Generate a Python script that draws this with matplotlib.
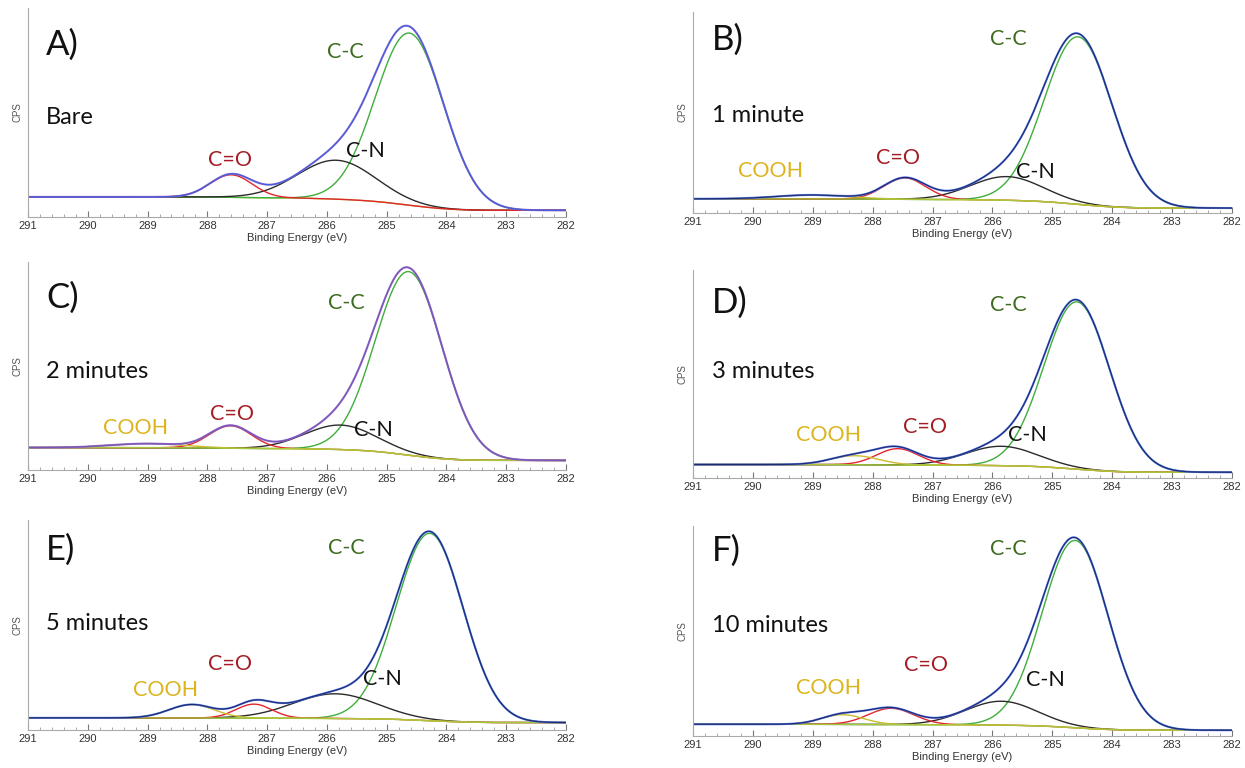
import numpy as np
import matplotlib
matplotlib.use("Agg")
import matplotlib.pyplot as plt
from matplotlib.ticker import MultipleLocator

# C 1s fit components per panel (height in % of axis height, centre / sigma in eV)
panel_tags = ["A)", "B)", "C)", "D)", "E)", "F)"]
times = ["Bare", "1 minute", "2 minutes", "3 minutes", "5 minutes", "10 minutes"]

cc_center = [284.62, 284.57, 284.63, 284.59, 284.28, 284.62]
cc_height = [84.0, 85.0, 90.0, 82.0, 91.0, 91.0]
cc_sigma = [0.57, 0.57, 0.56, 0.55, 0.56, 0.55]

cn_center = [285.84, 285.76, 285.77, 285.85, 285.86, 285.85]
cn_height = [19.0, 12.0, 12.0, 9.5, 12.0, 11.6]
cn_sigma = [0.65, 0.60, 0.60, 0.60, 0.70, 0.60]

co_center = [287.60, 287.46, 287.61, 287.58, 287.22, 287.69]
co_height = [11.0, 10.8, 11.0, 8.0, 6.8, 7.9]
co_sigma = [0.35, 0.35, 0.35, 0.35, 0.30, 0.38]

cooh_center = [289.0, 289.0, 289.0, 288.30, 288.26, 288.50]
cooh_height = [0.0, 2.0, 2.0, 4.4, 6.5, 4.7]
cooh_sigma = [0.60, 0.60, 0.60, 0.40, 0.38, 0.35]

bg_high = [7.8, 5.2, 9.0, 4.6, 3.9, 3.7]
bg_low = [1.25, 0.5, 2.7, 0.8, 1.6, 0.8]

W, H = 1245, 768
# axes boxes in pixels: left, top, right, bottom
boxes = [(28, 8, 566, 217), (693, 12, 1232, 213),
         (28, 262, 566, 470), (693, 270, 1232, 478),
         (28, 520, 566, 730), (693, 526, 1232, 736)]

C_TXT = {"cc": "#3d6b1f", "co": "#a51d24", "cooh": "#dcb41e", "cn": "#111111"}
C_LINE = {"cc": "#3fae3a", "cn": "#2b2b2b", "co": "#e3262b", "cooh": "#cdbb2e",
          "bg": "#a9c63a"}
env_col = ["#8c62c9", "#4a6ee8", "#8c62c9", "#4a6ee8", "#4a6ee8", "#4a6ee8"]
data_col = ["#3d5fe0", "#1c2a72", "#7a55b8", "#1c2a72", "#1c2a72", "#1c2a72"]

# label positions in pixels (x, y) : tag, time, C-C, COOH, C=O, C-N
tag_pos = [(46, 45), (712, 40), (46, 298), (712, 303), (46, 550), (712, 551)]
time_pos = [(46, 117), (712, 115), (46, 372), (712, 372), (46, 624), (712, 626)]
cc_pos = [(327, 52), (990, 39), (328, 303), (990, 305), (328, 548), (990, 549)]
cooh_pos = [None, (738, 171), (103, 428), (796, 435), (133, 690), (796, 688)]
co_pos = [(208, 160), (876, 158), (210, 414), (903, 427), (208, 664), (904, 665)]
cn_pos = [(346, 151), (1016, 172), (354, 430), (1008, 435), (363, 679), (1026, 680)]

x = np.linspace(282, 291, 900)


def gauss(c, h, s):
    return h * np.exp(-0.5 * ((x - c) / s) ** 2)


fig = plt.figure(figsize=(W / 100, H / 100), dpi=100)
label_font = "Lato"

for i in range(6):
    l, t, r, b = boxes[i]
    ax = fig.add_axes([l / W, 1 - b / H, (r - l) / W, (b - t) / H])
    peaks = {
        "cc": gauss(cc_center[i], cc_height[i], cc_sigma[i]),
        "cn": gauss(cn_center[i], cn_height[i], cn_sigma[i]),
        "co": gauss(co_center[i], co_height[i], co_sigma[i]),
        "cooh": gauss(cooh_center[i], cooh_height[i], cooh_sigma[i]),
    }
    total = sum(peaks.values())
    # Shirley-type step background
    cum = np.cumsum(total)
    bg = bg_low[i] + (bg_high[i] - bg_low[i]) * cum / cum[-1]
    env = bg + total

    if i == 0:
        order = ["bg", "cc", "cn", "co"]
    else:
        order = ["cc", "cn", "co", "cooh", "bg"]
    for k in order:
        yk = bg if k == "bg" else bg + peaks[k]
        ax.plot(x, yk, color=C_LINE[k], lw=1.0)
    ax.plot(x, env, color=env_col[i], lw=1.5, alpha=0.9)
    ax.plot(x, env, color=data_col[i], lw=0.8)

    ax.set_xlim(291, 282)
    ax.set_ylim(-2, 100)
    ax.set_yticks([])
    ax.xaxis.set_major_locator(MultipleLocator(1))
    ax.xaxis.set_minor_locator(MultipleLocator(0.2))
    ax.tick_params(axis="x", which="major", direction="in", length=4, width=0.8,
                   color="#777777", labelsize=8, labelcolor="#333333", pad=3)
    ax.tick_params(axis="x", which="minor", direction="in", length=2, width=0.6,
                   color="#999999")
    for sp in ["top", "right"]:
        ax.spines[sp].set_visible(False)
    for sp in ["left", "bottom"]:
        ax.spines[sp].set_color("#aaaaaa")
        ax.spines[sp].set_linewidth(0.8)
    ax.set_xlabel("Binding Energy (eV)", fontsize=8, color="#333333", labelpad=1)
    ax.set_ylabel("CPS", fontsize=7, color="#555555", labelpad=4)
    for lab in ax.get_xticklabels():
        lab.set_family("Liberation Sans")
    ax.xaxis.label.set_family("Liberation Sans")
    ax.yaxis.label.set_family("Liberation Sans")

    def put(pos, s, size, color):
        fig.text(pos[0] / W, 1 - pos[1] / H, s, fontsize=size, color=color,
                 va="center", ha="left", family=label_font)

    put(tag_pos[i], panel_tags[i], 25, "#111111")
    put(time_pos[i], times[i], 17, "#111111")
    put(cc_pos[i], "C-C", 15.5, C_TXT["cc"])
    put(co_pos[i], "C=O", 15.5, C_TXT["co"])
    put(cn_pos[i], "C-N", 15.5, C_TXT["cn"])
    if cooh_pos[i] is not None:
        put(cooh_pos[i], "COOH", 15.5, C_TXT["cooh"])

fig.savefig("out.png", dpi=100, facecolor="white")
